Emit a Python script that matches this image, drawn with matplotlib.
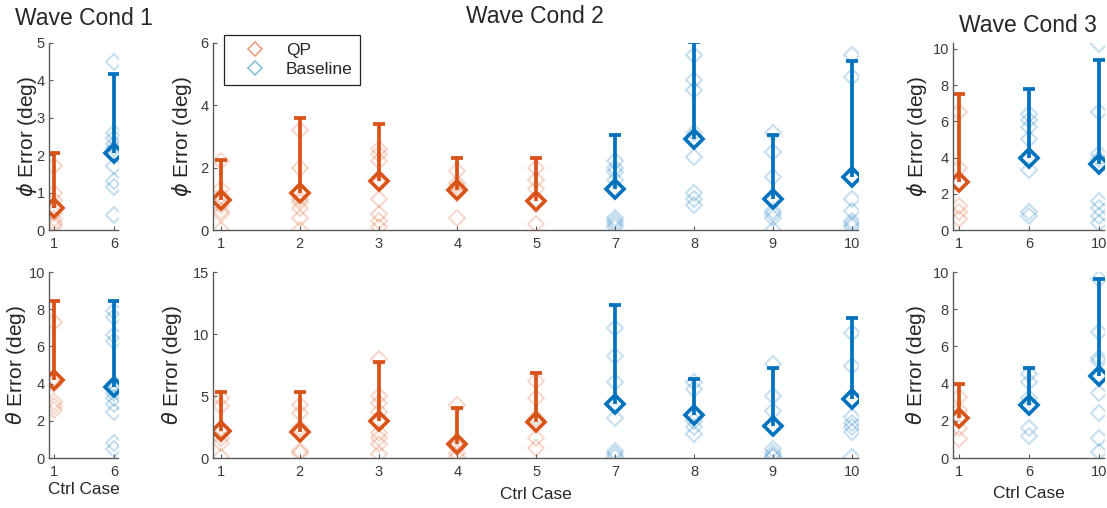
import matplotlib.pyplot as plt
from matplotlib.lines import Line2D

plt.rcParams['font.family'] = ['Liberation Sans', 'DejaVu Sans']
plt.rcParams['mathtext.fontset'] = 'dejavusans'

W, H = 1107, 508

# ---- data -------------------------------------------------------------
# case labels per wave condition (QP = cases 1-5, Baseline = cases 6-10)
cond1_cases = ['1', '6']
cond2_cases = ['1', '2', '3', '4', '5', '7', '8', '9', '10']
cond3_cases = ['1', '6', '10']

# phi error (deg)
phi1_pts = [[1.7, 1.0, 0.8, 0.45, 0.3, 0.2, 0.1],
            [4.5, 2.6, 2.45, 2.3, 2.2, 2.0, 1.7, 1.3, 1.15, 0.4]]
phi1_mean = [0.6, 2.05]
phi1_upper = [2.05, 4.17]

phi2_pts = [[2.2, 1.3, 1.1, 0.8, 0.6, 0.5, 0.0],
            [3.2, 2.0, 1.0, 0.9, 0.7, 0.4, 0.0],
            [2.6, 2.45, 2.2, 1.5, 1.0, 0.5, 0.3, 0.1],
            [1.9, 1.5, 1.4, 1.2, 0.4],
            [2.0, 1.6, 1.3, 0.9, 0.2],
            [2.2, 2.0, 1.85, 1.6, 0.4, 0.3, 0.2, 0.1],
            [5.6, 4.8, 4.5, 3.1, 2.35, 1.2, 1.0, 0.8],
            [3.1, 2.5, 1.7, 0.6, 0.5, 0.4, 0.0],
            [5.6, 4.9, 1.0, 0.6, 0.3, 0.2, 0.1]]
phi2_mean = [0.95, 1.19, 1.56, 1.29, 0.93, 1.30, 2.91, 1.0, 1.70]
phi2_upper = [2.24, 3.58, 3.4, 2.31, 2.31, 3.04, 6.02, 3.04, 5.41]

phi3_pts = [[6.5, 3.4, 1.3, 1.0, 0.6],
            [6.4, 6.1, 5.7, 5.0, 3.3, 1.0, 0.8],
            [10.3, 6.5, 4.2, 3.9, 1.6, 1.2, 0.8, 0.4]]
phi3_mean = [2.64, 4.0, 3.65]
phi3_upper = [7.5, 7.8, 9.41]

# theta error (deg)
theta1_pts = [[7.3, 4.3, 4.0, 3.0, 2.8, 2.6],
              [7.9, 7.6, 6.6, 6.3, 4.0, 3.7, 3.5, 3.2, 2.9, 2.5, 0.8, 0.5]]
theta1_mean = [4.2, 3.84]
theta1_upper = [8.45, 8.45]

theta2_pts = [[4.8, 4.2, 2.3, 1.6, 1.2, 0.1],
              [4.3, 3.6, 2.4, 0.6, 0.4],
              [8.0, 5.0, 4.4, 3.7, 2.0, 1.6, 1.1, 0.3],
              [4.3, 1.3, 0.9, 0.4, 0.1],
              [6.2, 4.8, 3.2, 1.6, 0.8],
              [10.5, 8.2, 6.1, 3.2, 0.6, 0.3, 0.1],
              [6.1, 5.6, 3.0, 2.5, 1.9],
              [7.6, 5.0, 3.8, 0.7, 0.4, 0.2, 0.05],
              [10.1, 7.4, 3.3, 2.8, 2.5, 2.1, 0.1]]
theta2_mean = [2.16, 2.1, 2.97, 1.16, 2.91, 4.32, 3.45, 2.56, 4.75]
theta2_upper = [5.34, 5.34, 7.72, 4.05, 6.83, 12.3, 6.37, 7.23, 11.33]

theta3_pts = [[3.3, 2.6, 1.6, 1.0],
              [4.5, 4.1, 3.2, 1.6, 1.2],
              [9.6, 6.8, 5.4, 5.2, 3.5, 2.4, 1.1, 0.3]]
theta3_mean = [2.15, 2.87, 4.4]
theta3_upper = [3.99, 4.85, 9.64]

QP_COLOR = '#D95319'
BASE_COLOR = '#0072BD'
TXT = '#262626'


def px_axes(fig, l, t, r, b):
    return fig.add_axes([l / W, 1 - b / H, (r - l) / W, (b - t) / H])


def draw_panel(ax, cases, pts, means, uppers, ylim, yticks, xlim):
    for i, case in enumerate(cases):
        x = i + 1
        col = QP_COLOR if int(case) <= 5 else BASE_COLOR
        ax.plot([x] * len(pts[i]), pts[i], ls='none', marker='D', ms=7.8,
                mfc='none', mec=col, mew=1.5, alpha=0.22)
        ax.plot([x, x], [means[i], uppers[i]], color=col, lw=2.7,
                solid_capstyle='butt')
        ax.plot(x, uppers[i], marker='_', ms=8, mew=2.7, color=col)
        ax.plot(x, means[i], marker='D', ms=9.6, mfc='none', mec=col, mew=2.6)
    ax.set_xlim(*xlim)
    ax.set_ylim(*ylim)
    ax.set_yticks(yticks)
    ax.set_xticks(range(1, len(cases) + 1))
    ax.set_xticklabels(cases)
    for s in ['top', 'right']:
        ax.spines[s].set_visible(False)
    for s in ['left', 'bottom']:
        ax.spines[s].set_color('#5a5a5a')
        ax.spines[s].set_linewidth(1.0)
    ax.tick_params(direction='in', length=3, width=0.8, color='#5a5a5a',
                   labelcolor='#3a3a3a', labelsize=10.5)
    ax.tick_params(axis='x', pad=5)
    ax.tick_params(axis='y', pad=3)


fig = plt.figure(figsize=(W / 100, H / 100), dpi=100)

ax1 = px_axes(fig, 49, 43, 118, 230)
ax2 = px_axes(fig, 213, 43, 858, 230)
ax3 = px_axes(fig, 953, 43, 1104, 230)
ax4 = px_axes(fig, 49, 272, 118, 458)
ax5 = px_axes(fig, 213, 272, 858, 458)
ax6 = px_axes(fig, 953, 272, 1104, 458)

draw_panel(ax1, cond1_cases, phi1_pts, phi1_mean, phi1_upper, (0, 5), range(0, 6), (0.917, 2.067))
draw_panel(ax2, cond2_cases, phi2_pts, phi2_mean, phi2_upper, (0, 6), range(0, 7, 2), (0.899, 9.08))
draw_panel(ax3, cond3_cases, phi3_pts, phi3_mean, phi3_upper, (0, 10.33), range(0, 11, 2), (0.914, 3.07))
draw_panel(ax4, cond1_cases, theta1_pts, theta1_mean, theta1_upper, (0, 10), range(0, 11, 2), (0.917, 2.067))
draw_panel(ax5, cond2_cases, theta2_pts, theta2_mean, theta2_upper, (0, 15), range(0, 16, 5), (0.899, 9.08))
draw_panel(ax6, cond3_cases, theta3_pts, theta3_mean, theta3_upper, (0, 10), range(0, 11, 2), (0.914, 3.07))

# y labels
for ax, lab, xc in [(ax1, r'$\phi$ Error (deg)', -0.15), (ax2, r'$\phi$ Error (deg)', -0.03),
                    (ax3, r'$\phi$ Error (deg)', -0.16), (ax4, r'$\theta$ Error (deg)', -0.31),
                    (ax5, r'$\theta$ Error (deg)', -0.045), (ax6, r'$\theta$ Error (deg)', -0.165)]:
    ax.set_ylabel(lab, fontsize=15, color=TXT)
    ax.yaxis.set_label_coords(xc, 0.5)

# x labels
for ax, yc in [(ax4, -0.13), (ax5, -0.155), (ax6, -0.15)]:
    ax.set_xlabel('Ctrl Case', fontsize=12.4, color=TXT)
    ax.xaxis.set_label_coords(0.5, yc)

# titles
for xc, yb, t in [(84, 25, 'Wave Cond 1'), (535, 23, 'Wave Cond 2'), (1028, 32, 'Wave Cond 3')]:
    fig.text(xc / W, 1 - yb / H, t, ha='center', va='baseline', fontsize=16.5, color=TXT)

# legend
handles = [Line2D([], [], ls='none', marker='D', ms=7, mfc='none', mec=QP_COLOR, mew=1.2, alpha=0.55),
           Line2D([], [], ls='none', marker='D', ms=7, mfc='none', mec='#3a9ab8', mew=1.2, alpha=0.6)]
leg = ax2.legend(handles, ['QP', 'Baseline'], loc='upper left',
                 bbox_to_anchor=(224 / W, 1 - 35 / H), bbox_transform=fig.transFigure,
                 borderaxespad=0, fontsize=12.5, frameon=True, fancybox=False,
                 edgecolor='#222222', framealpha=1, borderpad=0.45, labelspacing=0.25,
                 handlelength=2.7, handletextpad=0.4)
leg.get_frame().set_linewidth(0.9)
for t in leg.get_texts():
    t.set_color(TXT)

fig.savefig('out.png', dpi=100)
